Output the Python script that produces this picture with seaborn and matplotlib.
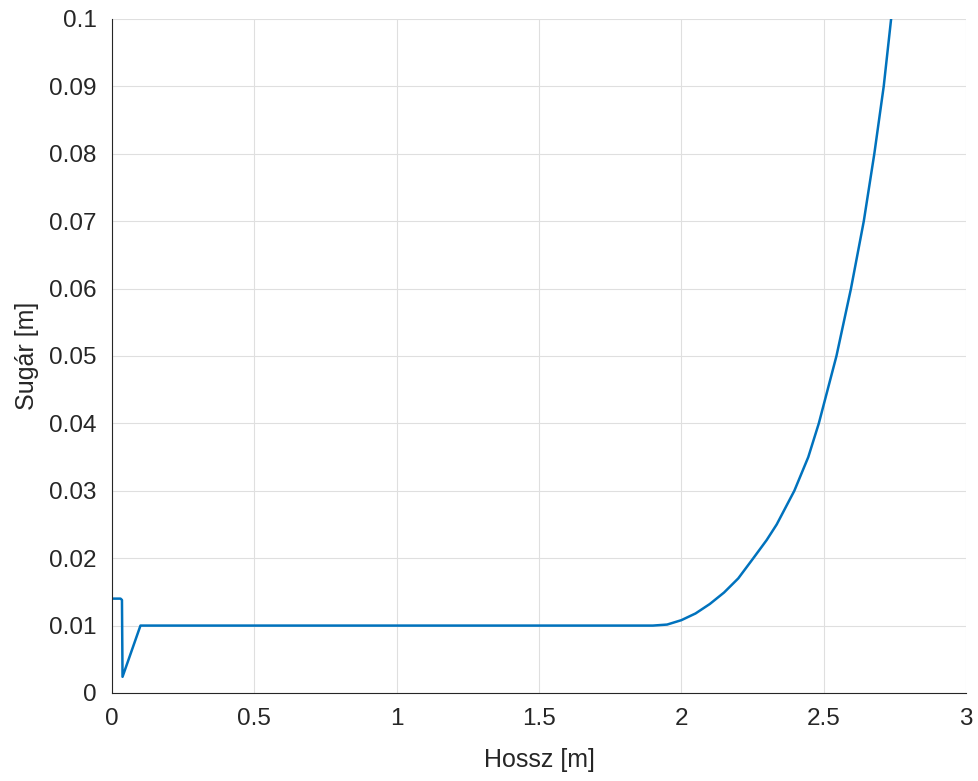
import matplotlib
matplotlib.use("Agg")
import matplotlib.pyplot as plt
import seaborn as sns
import pandas as pd

# sugár a hossz mentén
hossz = [0.0, 0.03, 0.035, 0.037, 0.1, 1.9, 1.95, 2.0, 2.05, 2.1, 2.15, 2.2,
         2.253, 2.3, 2.335, 2.397, 2.446, 2.483, 2.545, 2.596, 2.641,
         2.678, 2.711, 2.737]
sugar = [0.014, 0.014, 0.0138, 0.0024, 0.01, 0.01, 0.01015, 0.0108, 0.0118,
         0.0132, 0.0149, 0.017, 0.02, 0.0227, 0.025, 0.03, 0.035, 0.04,
         0.05, 0.06, 0.07, 0.08, 0.09, 0.1]
xticks = [0, 0.5, 1, 1.5, 2, 2.5, 3]
yticks = [0, 0.01, 0.02, 0.03, 0.04, 0.05, 0.06, 0.07, 0.08, 0.09, 0.1]

sns.set_style("white")
plt.rcParams['font.family'] = ['Liberation Sans', 'DejaVu Sans']

df = pd.DataFrame({"hossz": hossz, "sugar": sugar})

fig = plt.figure(figsize=(9.79, 7.81), dpi=100)
ax = fig.add_axes([0.1144, 0.1127, 0.8723, 0.863])
sns.lineplot(data=df, x="hossz", y="sugar", ax=ax, color="#0072BD",
             linewidth=1.8, estimator=None, sort=False)

ax.set_xlim(0, 3)
ax.set_ylim(0, 0.1)
ax.set_xticks(xticks)
ax.set_xticklabels([f"{t:g}" for t in xticks])
ax.set_yticks(yticks)
ax.set_yticklabels([f"{t:g}" for t in yticks])
ax.grid(True, color="#dfdfdf", linewidth=0.8)
ax.set_axisbelow(True)

for side in ["top", "right"]:
    ax.spines[side].set_visible(False)
for side in ["left", "bottom"]:
    ax.spines[side].set_color("#262626")
    ax.spines[side].set_linewidth(0.8)

ax.tick_params(direction="in", length=6, width=0.8, colors="#262626",
               labelsize=17.5, pad=11)
ax.set_xlabel("Hossz [m]", fontsize=18, color="#262626", labelpad=13)
ax.set_ylabel("Sugár [m]", fontsize=18, color="#262626", labelpad=7)

fig.savefig("out.png", dpi=100)
